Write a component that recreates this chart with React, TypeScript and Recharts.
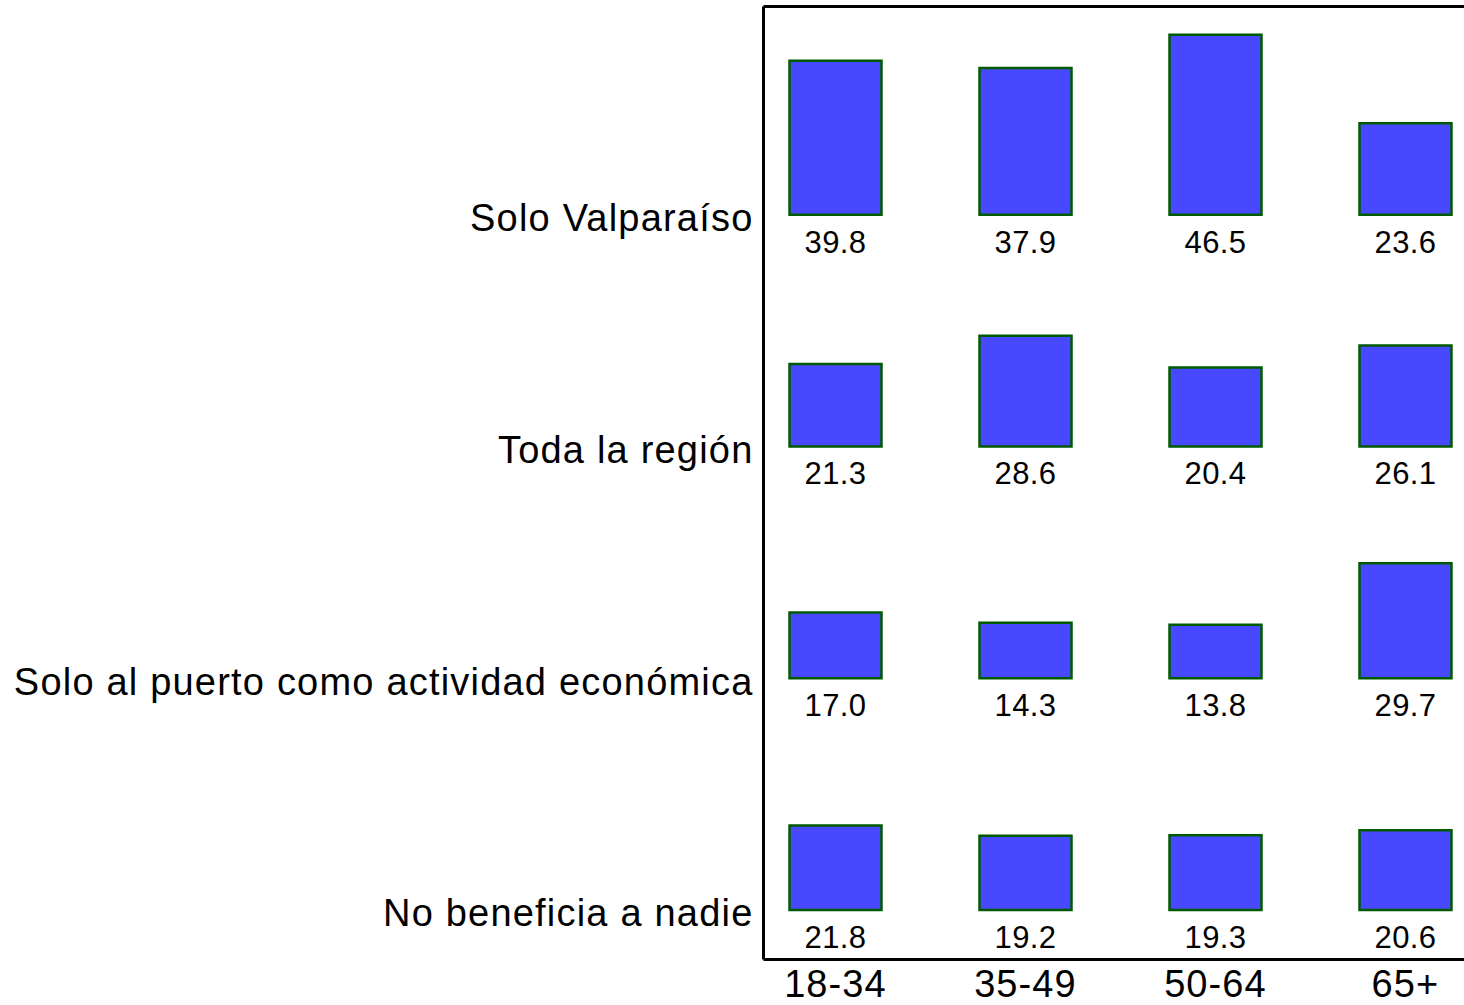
import React from 'react';
import { BarChart, Bar, XAxis, YAxis, LabelList, ReferenceLine } from 'recharts';

// Categories (columns) and responses (rows)
const ageGroups: string[] = ['18-34', '35-49', '50-64', '65+'];
const responses: string[] = [
  'Solo Valparaíso',
  'Toda la región',
  'Solo al puerto como actividad económica',
  'No beneficia a nadie',
];

// Values per response, in order of ageGroups
const soloValparaiso: number[] = [39.8, 37.9, 46.5, 23.6];
const todaLaRegion: number[] = [21.3, 28.6, 20.4, 26.1];
const soloPuerto: number[] = [17.0, 14.3, 13.8, 29.7];
const noBeneficia: number[] = [21.8, 19.2, 19.3, 20.6];

// Layout constants (in value units of the y scale)
const ROW_OFFSET = 12.8;
const ROW_SPAN = 59.9;
const Y_MAX = 246.3;

// Row bases from bottom to top
const rowSeries = [noBeneficia, soloPuerto, todaLaRegion, soloValparaiso];
const rowNames = [responses[3], responses[2], responses[1], responses[0]];
const rowBases = rowSeries.map((_, i) => ROW_OFFSET + i * ROW_SPAN);

const data = ageGroups.map((age, i) => ({
  x: i,
  age,
  g0: ROW_OFFSET,
  r0: noBeneficia[i],
  g1: ROW_SPAN - noBeneficia[i],
  r1: soloPuerto[i],
  g2: ROW_SPAN - soloPuerto[i],
  r2: todaLaRegion[i],
  g3: ROW_SPAN - todaLaRegion[i],
  r3: soloValparaiso[i],
}));

const FILL = '#4848FF';
const STROKE = '#005A00';
const FONT = '"Liberation Sans", Arial, Helvetica, sans-serif';

const fmt = (v: any) => (typeof v === 'number' ? v.toFixed(1) : v);

const yTickFormatter = (v: number) => {
  const idx = rowBases.findIndex((b) => Math.abs(b - v) < 0.01);
  return idx >= 0 ? rowNames[idx] : '';
};

export default function App() {
  const valueBar = (key: string) => (
    <Bar
      key={key}
      dataKey={key}
      stackId="s"
      fill={FILL}
      stroke={STROKE}
      strokeWidth={2.5}
      isAnimationActive={false}
    >
      <LabelList
        dataKey={key}
        position="bottom"
        offset={16}
        formatter={fmt}
        fontSize={31}
        fill="#000"
        fontFamily={FONT}
        letterSpacing={0.4}
      />
    </Bar>
  );
  const gapBar = (key: string) => (
    <Bar
      key={key}
      dataKey={key}
      stackId="s"
      fill="none"
      stroke="none"
      isAnimationActive={false}
    />
  );

  return (
    <div
      style={{
        position: 'absolute',
        left: 0,
        top: 0,
        width: 1464,
        height: 1005,
        overflow: 'hidden',
        background: '#fff',
        fontFamily: FONT,
      }}
    >
      <BarChart
        width={1464}
        height={1005}
        data={data}
        margin={{ top: 6.5, right: 0, bottom: 0, left: 0 }}
        barSize={92}
      >
        <XAxis
          dataKey="x"
          type="number"
          domain={[-0.379, 3.308]}
          allowDataOverflow
          ticks={[0, 1, 2, 3]}
          tickFormatter={(v: number) => ageGroups[v] ?? ''}
          height={45.5}
          tickLine={false}
          tickSize={0}
          tickMargin={11}
          axisLine={{ stroke: '#000', strokeWidth: 3 }}
          tick={{ fontSize: 38, fill: '#000', fontFamily: FONT, letterSpacing: 1.1 }}
          interval={0}
        />
        <YAxis
          type="number"
          domain={[0, Y_MAX]}
          allowDataOverflow
          ticks={rowBases}
          tickFormatter={yTickFormatter}
          width={763.5}
          tickLine={false}
          tickSize={0}
          tickMargin={10}
          axisLine={{ stroke: '#000', strokeWidth: 3 }}
          tick={{ fontSize: 38, fill: '#000', fontFamily: FONT, letterSpacing: 1.2, dy: 3 }}
          interval={0}
        />
        <ReferenceLine y={Y_MAX} stroke="#000" strokeWidth={3} ifOverflow="visible" />
        {gapBar('g0')}
        {valueBar('r0')}
        {gapBar('g1')}
        {valueBar('r1')}
        {gapBar('g2')}
        {valueBar('r2')}
        {gapBar('g3')}
        {valueBar('r3')}
      </BarChart>
    </div>
  );
}
